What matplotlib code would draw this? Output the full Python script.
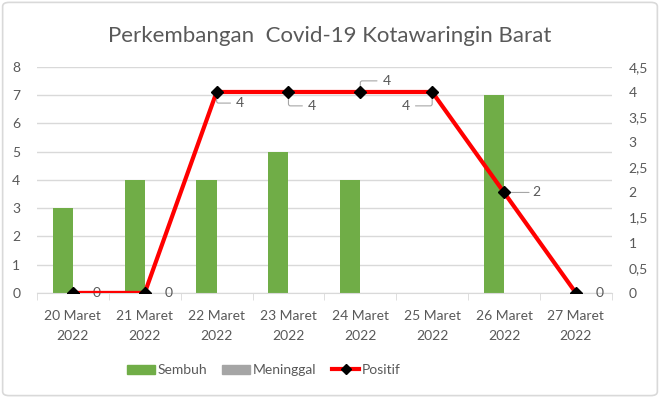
import matplotlib
matplotlib.use("Agg")
import matplotlib.pyplot as plt
from matplotlib.patches import FancyBboxPatch, Patch
from matplotlib.lines import Line2D
import numpy as np

plt.rcParams['font.family'] = ['Lato', 'DejaVu Sans']

categories = ["20 Maret\n2022", "21 Maret\n2022", "22 Maret\n2022", "23 Maret\n2022",
              "24 Maret\n2022", "25 Maret\n2022", "26 Maret\n2022", "27 Maret\n2022"]
sembuh = [3, 4, 4, 5, 4, 0, 7, 0]
meninggal = [0, 0, 0, 0, 0, 0, 0, 0]
positif = [0, 0, 4, 4, 4, 4, 2, 0]
left_ticks = [0, 1, 2, 3, 4, 5, 6, 7, 8]
right_ticks = [0, 0.5, 1, 1.5, 2, 2.5, 3, 3.5, 4, 4.5]
right_labels = ["0", "0,5", "1", "1,5", "2", "2,5", "3", "3,5", "4", "4,5"]
# label offsets (points) for Positif labels
label_offsets = [(14, 0), (14, 0), (14, -8), (14, -10), (16, 8), (-16, -10), (20, 0), (14, 0)]

txt = '#595959'
grid = '#d9d9d9'
fs = 10

fig = plt.figure(figsize=(6.6, 3.98), dpi=100)
fig.patches.append(FancyBboxPatch((0.004, 0.006), 0.992, 0.988, boxstyle="round,pad=0,rounding_size=0.01",
                                  transform=fig.transFigure, fc='none', ec='#d9d9d9', lw=1.2, zorder=-5))
ax = fig.add_axes([0.056, 0.264, 0.871, 0.568])
ax2 = ax.twinx()

x = np.arange(len(categories))
w = 0.28
ax.bar(x - w/2, sembuh, w, color='#70ad47', zorder=2)
ax.bar(x + w/2, meninggal, w, color='#a5a5a5', zorder=2)
ax.set_ylim(0, 8)
ax.set_xlim(-0.5, len(categories) - 0.5)
ax.set_yticks(left_ticks)
ax.yaxis.grid(True, color=grid, lw=1, zorder=0)
ax.set_axisbelow(True)
for s in ['top', 'right', 'left']:
    ax.spines[s].set_visible(False)
ax.spines['bottom'].set_color(grid)
ax.tick_params(axis='y', length=0, colors=txt, labelsize=fs, pad=12)
ax.set_xticks(x)
ax.set_xticklabels(categories, fontsize=fs, color=txt, linespacing=1.85)
ax.tick_params(axis='x', length=0, pad=12)
ax.set_xticks(np.arange(-0.5, len(categories), 1), minor=True)
ax.tick_params(axis='x', which='minor', length=5, color=grid)

ax2.plot(x, positif, color='#ff0000', lw=3, marker='D', ms=6, mfc='black', mec='black', zorder=5)
ax2.set_ylim(0, 4.5)
ax2.set_yticks(right_ticks)
ax2.set_yticklabels(right_labels)
ax2.tick_params(axis='y', length=0, colors=txt, labelsize=fs, pad=12)
for s in ['top', 'right', 'left', 'bottom']:
    ax2.spines[s].set_visible(False)

for i, (v, off) in enumerate(zip(positif, label_offsets)):
    if off[1] == 0:
        ax2.annotate(str(v), (x[i], v), xytext=off, textcoords='offset points',
                     ha='left' if off[0] > 0 else 'right', va='center', fontsize=fs, color=txt,
                     arrowprops=dict(arrowstyle='-', color='#a6a6a6', lw=0.8, shrinkA=0, shrinkB=3) if i == 6 else None)
    else:
        ax2.annotate(str(v), (x[i], v), xytext=off, textcoords='offset points',
                     ha='left' if off[0] > 0 else 'right', va='center', fontsize=fs, color=txt,
                     arrowprops=dict(arrowstyle='-', color='#a6a6a6', lw=0.8, shrinkA=2, shrinkB=3,
                                     connectionstyle='angle,angleA=0,angleB=90,rad=2'))

fig.text(0.5, 0.91, "Perkembangan  Covid-19 Kotawaringin Barat", ha='center', va='center',
         fontsize=16, color=txt)

handles = [Patch(color='#70ad47', label='Sembuh'), Patch(color='#a5a5a5', label='Meninggal'),
           Line2D([0], [0], color='#ff0000', lw=3, marker='D', ms=5, mfc='black', mec='black', label='Positif')]
fig.legend(handles=handles, loc='center', bbox_to_anchor=(0.4, 0.07), ncol=3, frameon=False,
           fontsize=fs, labelcolor=txt, handlelength=2.0, handletextpad=0.2, columnspacing=1.1,
           handleheight=0.6)

fig.savefig('out.png', dpi=100)
